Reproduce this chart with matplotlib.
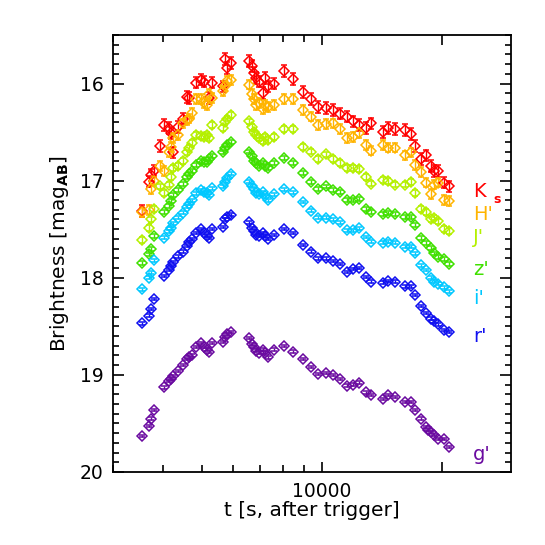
import numpy as np
import matplotlib.pyplot as plt
from matplotlib.ticker import FixedLocator, NullFormatter, FixedFormatter

nan = np.nan

# time since trigger [s], shared by all bands
t_sec = [3556, 3688, 3731, 3796, 3936, 4035, 4138, 4186, 4249, 4365, 4485, 4606,
         4659, 4732, 4851, 4975, 5070, 5167, 5218, 5300, 5646, 5721, 5798, 5933,
         6558, 6683, 6761, 6839, 6970, 7108, 7190, 7328, 7600, 8035, 8477, 8950,
         9370, 9789, 10215, 10635, 11092, 11528, 11954, 12396, 12860, 13260, 14186, 14622,
         15220, 16150, 16720, 17110, 17710, 18160, 18440, 18730, 19110, 19500, 20210, 20840]

mag_K = [17.31, 17.01, 16.94, 16.90, 16.64, 16.43, 16.46, 16.51, 16.71, 16.45, 16.36, 16.14,
         16.15, nan, 15.99, 15.96, 15.98, nan, 16.15, 15.99, 16.03, 15.75, 15.84, 15.79,
         15.77, 15.82, 15.89, 15.94, 15.98, 16.10, 15.94, 16.03, 16.00, 15.87, 15.95, 16.09,
         16.16, 16.24, 16.25, 16.27, 16.31, 16.34, 16.39, 16.43, 16.46, 16.41, 16.50, 16.46,
         16.47, 16.48, 16.52, 16.64, 16.78, 16.74, nan, 16.85, 16.90, 16.90, 17.02, 17.06]
mag_H = [17.32, 17.30, 17.09, 17.00, 16.85, 16.90, 16.71, 16.65, 16.56, 16.53, 16.41, 16.38,
         16.36, 16.30, 16.16, 16.16, 16.20, 16.22, 16.11, 16.15, 16.08, 16.03, 15.97, 15.96,
         16.01, 16.11, 16.16, 16.22, 16.20, 16.26, 16.22, 16.24, 16.22, 16.16, 16.16, 16.27,
         16.34, 16.43, 16.42, 16.41, 16.47, 16.56, 16.55, 16.51, 16.63, 16.69, 16.63, 16.66,
         16.66, 16.74, 16.71, 16.84, 16.91, 17.02, nan, 17.14, 17.04, 17.02, 17.20, 17.21]
mag_J = [17.61, 17.49, 17.40, 17.29, 17.06, 17.13, 17.04, 16.96, 16.87, 16.85, 16.80, 16.71,
         16.66, 16.61, 16.53, 16.54, 16.55, 16.53, 16.56, 16.43, 16.46, 16.40, 16.36, 16.32,
         16.39, 16.45, 16.50, 16.53, 16.56, 16.59, 16.55, 16.58, 16.55, 16.47, 16.47, 16.65,
         16.70, 16.78, 16.73, 16.78, 16.82, 16.87, 16.87, 16.88, 16.96, 17.03, 16.99, 17.00,
         17.04, 17.04, 17.01, 17.13, 17.29, 17.32, nan, 17.40, 17.38, 17.42, 17.50, 17.52]
mag_z = [17.85, 17.76, 17.70, 17.57, nan, 17.32, 17.26, 17.21, 17.15, 17.10, 17.03, 16.96,
         16.93, 16.90, 16.84, 16.80, 16.81, 16.81, 16.78, 16.75, 16.71, 16.66, 16.63, 16.60,
         16.70, 16.75, 16.80, 16.82, 16.85, 16.82, 16.85, 16.87, 16.82, 16.77, 16.82, 16.92,
         17.01, 17.09, 17.06, 17.10, 17.12, 17.20, 17.20, 17.19, 17.29, 17.32, 17.34, 17.33,
         17.34, 17.37, 17.37, 17.46, 17.59, 17.64, nan, 17.69, 17.75, 17.79, 17.81, 17.86]
mag_i = [18.12, 18.00, 17.95, 17.82, nan, 17.59, 17.52, 17.49, 17.44, 17.38, 17.33, 17.27,
         17.24, 17.20, 17.13, 17.10, 17.12, 17.13, 17.15, 17.08, 17.06, 17.01, 16.97, 16.93,
         17.01, 17.05, 17.09, 17.13, 17.14, 17.12, 17.16, 17.20, 17.14, 17.09, 17.12, 17.22,
         17.31, 17.38, 17.38, 17.40, 17.43, 17.51, 17.51, 17.49, 17.58, 17.63, 17.64, 17.63,
         17.64, 17.68, 17.68, 17.75, 17.87, 17.92, nan, 18.00, 18.04, 18.06, 18.10, 18.14]
mag_r = [18.47, 18.39, 18.32, 18.22, nan, 17.98, 17.92, 17.88, 17.84, 17.78, 17.73, 17.67,
         17.63, 17.60, 17.54, 17.50, 17.54, 17.57, 17.59, 17.50, 17.48, 17.40, 17.37, 17.35,
         17.43, 17.49, 17.52, 17.56, 17.57, 17.54, 17.57, 17.60, 17.56, 17.50, 17.54, 17.66,
         17.73, 17.80, 17.80, 17.83, 17.86, 17.94, 17.91, 17.90, 17.99, 18.04, 18.05, 18.03,
         18.04, 18.09, 18.09, 18.18, 18.29, 18.36, nan, 18.42, 18.45, 18.48, 18.54, 18.56]
mag_g = [19.63, 19.53, 19.45, 19.36, nan, 19.13, 19.06, 19.04, 19.01, 18.96, 18.90, 18.84,
         18.82, 18.80, 18.71, 18.67, 18.71, 18.74, 18.76, 18.67, 18.66, 18.61, 18.58, 18.56,
         18.62, 18.68, 18.71, 18.75, 18.77, 18.74, 18.77, 18.82, 18.74, 18.70, 18.76, 18.84,
         18.92, 18.99, 18.98, 19.00, 19.04, 19.11, 19.10, 19.08, 19.18, 19.21, 19.25, 19.21,
         19.23, 19.28, 19.28, 19.36, 19.45, 19.54, 19.57, 19.59, 19.62, 19.66, 19.66, 19.74]

band_names = ["K", "H'", "J'", "z'", "i'", "r'", "g'"]
band_mags = [mag_K, mag_H, mag_J, mag_z, mag_i, mag_r, mag_g]
band_errs = [0.06, 0.05, 0.03, 0.02, 0.015, 0.012, 0.012]
band_colors = ['#ff0000', '#ffb400', '#b4f000', '#40e000', '#00c8ff', '#1010f0', '#6a0aa0']
label_mags = [17.11, 17.35, 17.59, 17.92, 18.21, 18.61, 19.82]

fig = plt.figure(figsize=(5.45, 5.45), dpi=100)
ax = fig.add_axes([0.2073, 0.134, 0.7303, 0.8018])

t = np.array(t_sec, dtype=float)
for name, m, e, c in zip(band_names, band_mags, band_errs, band_colors):
    m = np.array(m, dtype=float)
    ax.errorbar(t, m, yerr=e, fmt='D', ms=5.2, mfc='none', mec=c, mew=1.1,
                ecolor=c, elinewidth=1.0, capsize=2, capthick=1.0, zorder=3)

ax.set_xscale('log')
ax.set_xlim(3000, 29700)
ax.set_ylim(20, 15.5)

# band labels at the right
for name, lm, c in zip(band_names, label_mags, band_colors):
    if name == "K":
        ax.text(23850, lm, 'K', color=c, fontsize=14, va='center', ha='left')
        ax.text(26800, lm + 0.08, 's', color=c, fontsize=9, va='center', ha='left',
                fontweight='bold')
    else:
        ax.text(23850, lm, name, color=c, fontsize=14, va='center', ha='left')

ax.xaxis.set_major_locator(FixedLocator([10000, 20000]))
ax.xaxis.set_major_formatter(FixedFormatter(['10000', '']))
ax.xaxis.set_minor_locator(FixedLocator([3000, 4000, 5000, 6000, 7000, 8000, 9000]))
ax.xaxis.set_minor_formatter(NullFormatter())
ax.set_yticks([16, 17, 18, 19, 20])
ax.yaxis.set_minor_locator(FixedLocator(np.arange(15.5, 20.01, 0.1)))

ax.tick_params(which='both', direction='in', top=True, right=True, width=1.2,
               labelsize=13.5, pad=7)
ax.tick_params(axis='y', which='major', length=8)
ax.tick_params(axis='y', which='minor', length=4)
ax.tick_params(axis='x', which='major', length=7)
ax.tick_params(axis='x', which='minor', length=5)
for s in ax.spines.values():
    s.set_linewidth(1.3)

ax.set_xlabel('t [s, after trigger]', fontsize=14.5, labelpad=0)
ax.set_ylabel(r'Brightness [mag$_{\mathbf{AB}}$]', fontsize=14.5, labelpad=6)

fig.savefig('out.png', dpi=100)
